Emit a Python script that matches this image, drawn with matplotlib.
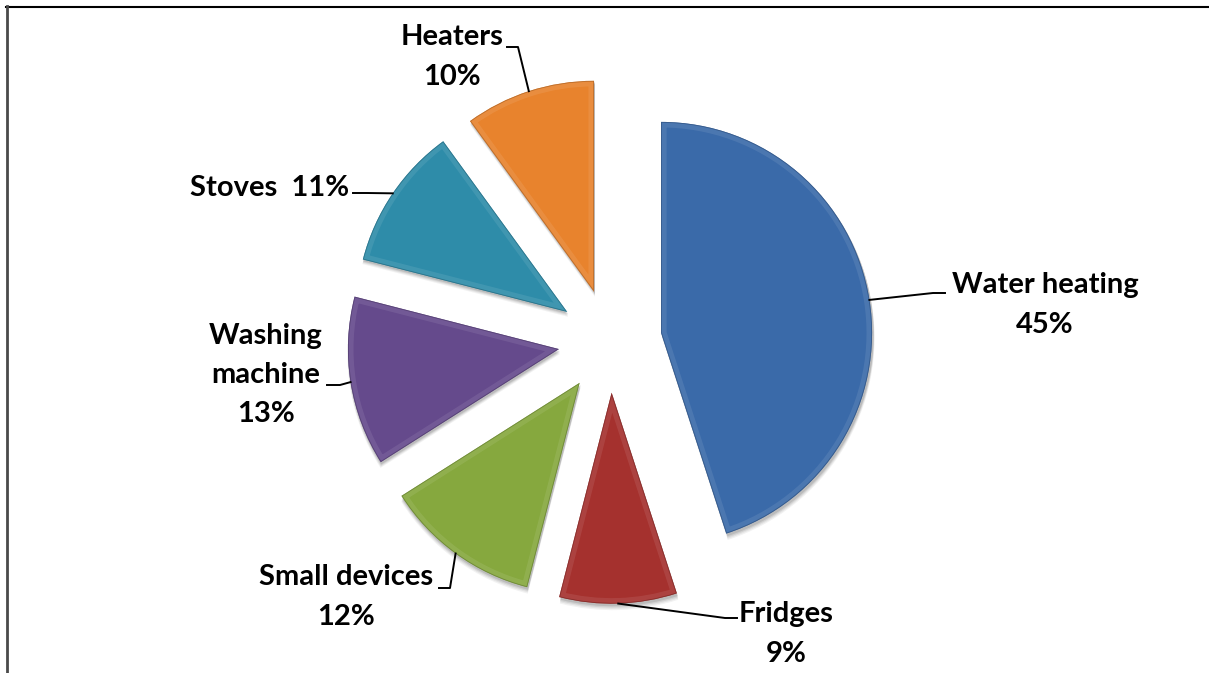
import matplotlib
matplotlib.use("Agg")
import matplotlib.pyplot as plt
from matplotlib.patches import Wedge
from matplotlib.lines import Line2D
import numpy as np

# Household electricity use by appliance group
categories = ["Water heating", "Fridges", "Small devices", "Washing\nmachine", "Stoves", "Heaters"]
shares = [45, 9, 12, 13, 11, 10]
label_joins = ["\n", "\n", "\n", "\n", "  ", "\n"]
colors = ["#3A6AA9", "#A5312E", "#86A83E", "#654A8C", "#2E8CA9", "#E8832D"]

W, H = 1209, 673
fig = plt.figure(figsize=(W / 100, H / 100), dpi=100)
ax = fig.add_axes([0, 0, 1, 1])


def py(y):
    """Convert a top-down pixel row into the axes' upward y coordinate."""
    return H - y


center = (610, py(341))
radius = 211
explode_px = 51.7   # pie() offsets exploded slices in data units

wedges, _ = ax.pie(shares, colors=colors, startangle=90, counterclock=False,
                   explode=[explode_px] * len(shares), radius=radius, center=center,
                   wedgeprops=dict(linewidth=0))

# soft drop shadow and bevel-like rim on each slice
for w, c in zip(wedges, colors):
    w.set_zorder(3)
    cx, cy = w.center
    for k, a in ((5, 0.05), (4, 0.06), (3, 0.08), (2, 0.10)):
        sh = Wedge((cx + 1, cy - k), w.r + k * 0.3, w.theta1, w.theta2,
                   facecolor="black", alpha=a, linewidth=0, zorder=2)
        ax.add_patch(sh)
    rgb = np.array(matplotlib.colors.to_rgb(c))
    light = 1 - (1 - rgb) * 0.6
    dark = rgb * 0.72
    rim = Wedge(w.center, w.r, w.theta1, w.theta2, facecolor="none",
                edgecolor=light, linewidth=8, alpha=0.22, zorder=4)
    rim.set_clip_path(w)
    ax.add_patch(rim)
    edge = Wedge(w.center, w.r, w.theta1, w.theta2, facecolor="none",
                 edgecolor=dark, linewidth=1.2, alpha=0.7, zorder=5)
    edge.set_clip_path(w)
    ax.add_patch(edge)

# label block centres and leader elbows (pixel rows measured from top)
label_pos = [(1045, 305), (786, 634), (346, 597), (266, 375), (270, 188), (452, 57)]
leader_pts = [
    [(933, 293), (945, 293)],
    [(725, 618), (737, 618)],
    [(450, 588), (439, 588)],
    [(340, 385), (327, 385)],
    [(367, 193), (353, 193)],
    [(518, 47), (507, 47)],
]

for w, cat, val, join, (lx, ly), pts in zip(wedges, categories, shares, label_joins,
                                           label_pos, leader_pts):
    mid = np.deg2rad((w.theta1 + w.theta2) / 2)
    cx, cy = w.center
    ax_pt = (cx + w.r * np.cos(mid), cy + w.r * np.sin(mid))
    xs = [ax_pt[0]] + [p[0] for p in pts]
    ys = [ax_pt[1]] + [py(p[1]) for p in pts]
    ax.add_line(Line2D(xs, ys, color="black", linewidth=1.4, zorder=6))
    ax.text(lx, py(ly), f"{cat}{join}{val}%", ha="center", va="center",
            family="Lato", weight="bold", fontsize=21, linespacing=1.62,
            color="black", zorder=7)

ax.set_xlim(0, W)
ax.set_ylim(0, H)
ax.set_aspect("auto")
ax.axis("off")

# chart frame: top and left edges
fig.add_artist(Line2D([6 / W, 1], [1 - 6.5 / H] * 2, color="black", linewidth=1.5,
                      transform=fig.transFigure))
fig.add_artist(Line2D([7 / W, 7 / W], [0, 1 - 6 / H], color="#4a4a4a", linewidth=2,
                      transform=fig.transFigure))

fig.savefig("out.png", dpi=100, facecolor="white")
